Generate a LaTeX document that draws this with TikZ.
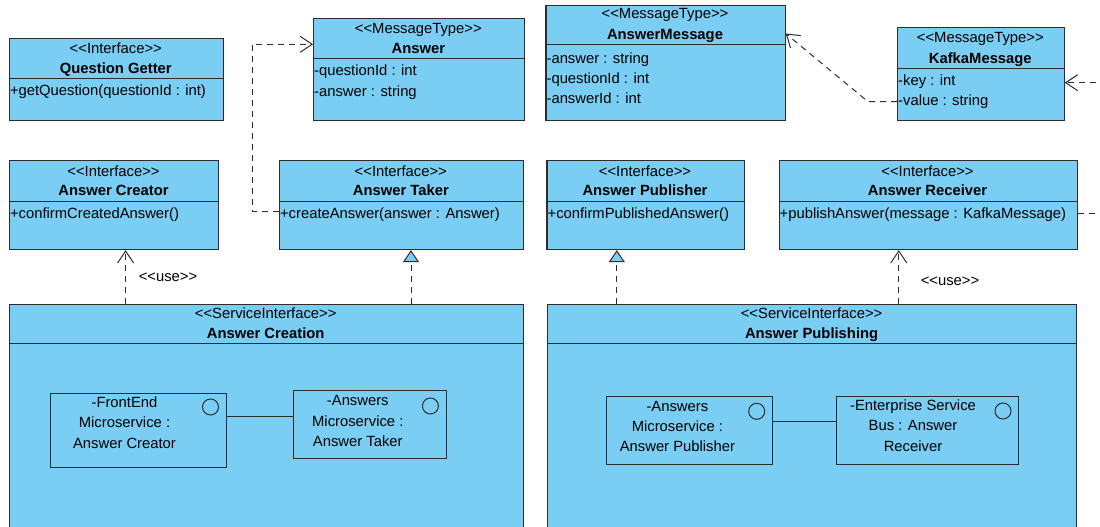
\documentclass[tikz,border=0pt]{standalone}
\usepackage{fontspec}
\setmainfont{Liberation Sans}[Ligatures=TeXOff]
\usetikzlibrary{arrows.meta}

\definecolor{boxblue}{RGB}{122,206,243}
\definecolor{edge}{RGB}{45,45,45}

\tikzset{
  umlbox/.style={draw=edge, fill=boxblue, line width=1.1pt, rectangle, inner sep=0pt, anchor=north west},
  partbox/.style={draw=edge, fill=boxblue, line width=1pt, rectangle, inner sep=0pt, anchor=north west},
  txt/.style={inner sep=0pt, font=\fontsize{14.8}{16}\selectfont, text height=10.5pt, text depth=3pt},
  attr/.style={txt, anchor=west},
  title/.style={txt, font=\fontsize{14.8}{16}\selectfont\bfseries},
  divider/.style={draw=edge, line width=1.1pt},
  depline/.style={draw=edge, line width=1pt, dash pattern=on 6pt off 5pt,
    -{Straight Barb[length=12pt, width=16pt, line width=1pt]}},
  realline/.style={draw=edge, line width=1pt, dash pattern=on 6pt off 5pt,
    -{Triangle[length=12pt, width=16pt, fill=boxblue, line width=1pt]}},
  wire/.style={draw=edge, line width=1pt},
  port/.style={draw=edge, line width=1pt, circle, minimum size=16pt, inner sep=0pt},
}

% optional style, name, x1, y1, x2, y2
\newcommand\mkbox[6][umlbox]{%
  \node[#1, minimum width={(#5-#3)*1pt}, minimum height={(#6-#4)*1pt}] (#2) at (#3,#4) {};}

\begin{document}
\begin{tikzpicture}[x=1pt, y=-1pt]
\useasboundingbox (0,0) rectangle (1100,527);
\clip (0,0) rectangle (1100,527);
\fill[white] (0,0) rectangle (1100,527);

% ---------- top row: interface and message types ----------
\mkbox{qg}{8.8}{37.7}{222.8}{120}
\draw[divider] (qg.west |- 0,78.7) -- (qg.east |- 0,78.7);
\node[txt] (qgs) at (115.8,50) {<<Interface>>};
\node[title] (qgn) at (115.8,69.3) {Question Getter};
\node[attr] (qgm) at (9.8,92) {+getQuestion(questionId : int)};

\mkbox{ans}{313}{18.3}{523.7}{120}
\draw[divider] (ans.west |- 0,58.3) -- (ans.east |- 0,58.3);
\node[txt] (anss) at (418.3,29.3) {<<MessageType>>};
\node[title] (ansn) at (418.3,50) {Answer};
\node[attr] (ansa) at (314,71.7) {-questionId : int};
\node[attr] (ansb) at (314,92.7) {-answer : string};

\mkbox{amsg}{545.4}{5}{784.6}{120}
\draw[divider] (amsg.west |- 0,44.3) -- (amsg.east |- 0,44.3);
\node[txt] (amsgs) at (665,15) {<<MessageType>>};
\node[title] (amsgn) at (665,36) {AnswerMessage};
\node[attr] (amsga) at (546.4,59.3) {-answer : string};
\node[attr] (amsgb) at (546.4,79.3) {-questionId : int};
\node[attr] (amsgc) at (546.4,99.3) {-answerId : int};

\mkbox{kafka}{897}{27.3}{1063.7}{119.5}
\draw[divider] (kafka.west |- 0,68.3) -- (kafka.east |- 0,68.3);
\node[txt] (kafkas) at (980.3,39) {<<MessageType>>};
\node[title] (kafkan) at (980.3,59.3) {KafkaMessage};
\node[attr] (kafkaa) at (898,81.7) {-key : int};
\node[attr] (kafkab) at (898,101.7) {-value : string};

% ---------- second row: interfaces ----------
\mkbox{acr}{8.8}{160}{218.2}{249}
\draw[divider] (acr.west |- 0,201.7) -- (acr.east |- 0,201.7);
\node[txt] (acrs) at (113.5,172.7) {<<Interface>>};
\node[title] (acrn) at (113.5,191.7) {Answer Creator};
\node[attr] (acrm) at (9.8,215) {+confirmCreatedAnswer()};

\mkbox{atk}{278.9}{160}{522.7}{249}
\draw[divider] (atk.west |- 0,201.7) -- (atk.east |- 0,201.7);
\node[txt] (atks) at (400.8,172.7) {<<Interface>>};
\node[title] (atkn) at (400.8,191.7) {Answer Taker};
\node[attr] (atkm) at (279.9,215) {+createAnswer(answer : Answer)};

\mkbox{apb}{546.4}{160}{743.5}{249}
\draw[divider] (apb.west |- 0,201.7) -- (apb.east |- 0,201.7);
\node[txt] (apbs) at (645,172.7) {<<Interface>>};
\node[title] (apbn) at (645,191.7) {Answer Publisher};
\node[attr] (apbm) at (547.4,215) {+confirmPublishedAnswer()};

\mkbox{arc}{778.5}{160}{1076.6}{249}
\draw[divider] (arc.west |- 0,201.7) -- (arc.east |- 0,201.7);
\node[txt] (arcs) at (927.5,172.7) {<<Interface>>};
\node[title] (arcn) at (927.5,191.7) {Answer Receiver};
\node[attr] (arcm) at (779.5,215) {+publishAnswer(message : KafkaMessage)};

% ---------- bottom row: service interfaces ----------
\mkbox{acn}{8.8}{304}{522.7}{545}
\draw[divider] (acn.west |- 0,343.3) -- (acn.east |- 0,343.3);
\node[txt] (acns) at (265.7,315) {<<ServiceInterface>>};
\node[title] (acnn) at (265.7,334.3) {Answer Creation};

\mkbox[partbox]{fe}{50.2}{392.7}{225.6}{467.3}
\node[txt] (fe1) at (124.5,404) {-FrontEnd};
\node[txt] (fe2) at (124.5,424) {Microservice :};
\node[txt] (fe3) at (124.5,444.3) {Answer Creator};
\node[port] (fep) at (210.5,407) {};

\mkbox[partbox]{am}{293.3}{390}{446.2}{458.3}
\node[txt] (am1) at (357.8,401.7) {-Answers};
\node[txt] (am2) at (357.8,422.3) {Microservice :};
\node[txt] (am3) at (357.8,442.7) {Answer Taker};
\node[port] (amp) at (430.4,406) {};

\draw[wire] (fe.east |- 0,416.7) -- (am.west |- 0,416.7);

\mkbox{apg}{547}{304}{1076.2}{545}
\draw[divider] (apg.west |- 0,343.3) -- (apg.east |- 0,343.3);
\node[txt] (apgs) at (811.6,315) {<<ServiceInterface>>};
\node[title] (apgn) at (811.6,334.3) {Answer Publishing};

\mkbox[partbox]{pm}{606.4}{395.7}{772.4}{463.7}
\node[txt] (pm1) at (677.4,407.3) {-Answers};
\node[txt] (pm2) at (677.4,427.3) {Microservice :};
\node[txt] (pm3) at (677.4,447.7) {Answer Publisher};
\node[port] (pmp) at (756.7,411.3) {};

\mkbox[partbox]{esb}{836}{395.7}{1017.7}{463.7}
\node[txt] (esb1) at (913,407) {-Enterprise Service};
\node[txt] (esb2) at (913,427) {Bus : Answer};
\node[txt] (esb3) at (913,448) {Receiver};
\node[port] (esbp) at (1003,411) {};

\draw[wire] (pm.east |- 0,421) -- (esb.west |- 0,421);

% ---------- dependencies ----------
\coordinate (bendA) at (252,44.3);
\coordinate (bendK) at (868,101.7);
\coordinate (bendR) at (1115,82.7);
\draw[depline] (atk.west |- 0,211) -| (bendA) -- (ans.west |- bendA);
\draw[depline] (kafka.west |- bendK) -- (bendK) -- (amsg.east |- 0,33.5);
\draw[depline] (arc.east |- 0,213) -| (bendR) -- (kafka.east |- bendR);

\coordinate (useA) at (125.6,0);
\coordinate (useR) at (898.8,0);
\coordinate (realT) at (411,0);
\coordinate (realP) at (616.8,0);
\draw[depline] (acn.north -| useA) -- (acr.south -| useA);
\draw[depline] (apg.north -| useR) -- (arc.south -| useR);
\draw[realline] (acn.north -| realT) -- (atk.south -| realT);
\draw[realline] (apg.north -| realP) -- (apb.south -| realP);

\node[txt] (useAl) at (168,277.7) {<<use>>};
\node[txt] (useRl) at (950,281.7) {<<use>>};
\end{tikzpicture}
\end{document}
